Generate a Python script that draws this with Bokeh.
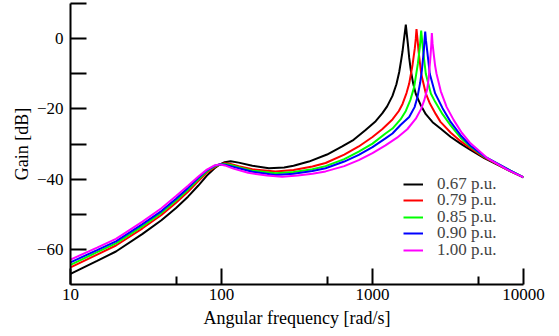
from bokeh.plotting import figure
from bokeh.models import Range1d, FixedTicker, NumeralTickFormatter, Legend, LegendItem
from bokeh.embed import file_html
from bokeh.resources import INLINE

# ---- data ----
labels = ["0.67 p.u.", "0.79 p.u.", "0.85 p.u.", "0.90 p.u.", "1.00 p.u."]
colors = ["#000000", "#ff0000", "#00ff00", "#0000ff", "#ff00ff"]

freq_067 = [10, 15, 20, 30, 40, 50, 60, 70, 80, 90, 97, 105, 115, 130, 160, 206, 260, 300, 379, 500,
            630, 750, 900, 1050, 1160, 1250, 1356, 1440, 1503, 1550, 1581, 1610, 1635, 1662, 1690,
            1715, 1750, 1795, 1860, 1936, 2080, 2254, 2500, 2820, 3300, 3830, 4457, 5500, 6700, 8200, 10000]
gain_067 = [-67.0, -63.3, -60.6, -55.6, -51.7, -48.2, -45.0, -41.9, -39.0, -36.9, -35.9, -35.2, -34.9, -35.3,
            -36.2, -36.9, -36.7, -36.2, -35.0, -33.0, -30.7, -28.8, -26.0, -23.5, -21.3, -19.3, -16.3,
            -13.0, -9.5, -6.0, -3.6, -0.8, 1.5, 4.0, 1.0, -1.5, -5.5, -9.1, -12.8, -15.8, -18.8, -21.5,
            -23.8, -25.6, -28.0, -29.9, -31.7, -34.0, -35.9, -37.8, -39.5]

freq_079 = [10, 15, 20, 30, 40, 50, 60, 70, 80, 90, 97, 105, 115, 130, 160, 228, 300, 400, 489, 650,
            811, 1000, 1159, 1356, 1494, 1581, 1680, 1750, 1841, 1906, 1935, 1956, 1985, 2017, 2101,
            2254, 2400, 2625, 2820, 3300, 3830, 4457, 5500, 6700, 8200, 10000]
gain_079 = [-65.1, -61.5, -58.9, -54.0, -50.2, -46.7, -43.6, -40.6, -38.2, -36.6, -35.8, -35.5, -35.7, -36.3,
            -37.2, -37.8, -37.4, -36.4, -35.4, -33.0, -30.7, -28.0, -25.8, -23.0, -20.6, -18.6, -15.5,
            -12.8, -7.5, -2.8, 0.0, 2.7, 0.0, -3.4, -10.0, -15.6, -18.5, -21.5, -23.7, -26.8, -29.2,
            -31.2, -33.8, -35.7, -37.7, -39.5]

freq_085 = [10, 15, 20, 30, 40, 50, 60, 70, 80, 90, 97, 105, 115, 130, 160, 228, 300, 400, 489, 650,
            811, 1000, 1219, 1356, 1533, 1662, 1780, 1887, 1996, 2057, 2080, 2101, 2125, 2163, 2254,
            2434, 2600, 2910, 3300, 3830, 4457, 5500, 6700, 8200, 10000]
gain_085 = [-64.4, -60.8, -58.3, -53.4, -49.6, -46.1, -43.0, -40.1, -37.8, -36.4, -35.8, -35.7, -36.0, -36.6,
            -37.6, -38.3, -38.0, -37.2, -36.3, -34.3, -32.2, -29.9, -27.0, -25.6, -23.0, -20.6, -17.5,
            -13.8, -7.2, -2.5, 0.0, 2.3, 0.0, -3.4, -10.0, -15.6, -18.0, -21.5, -24.8, -28.2, -30.8,
            -33.6, -35.6, -37.6, -39.5]

freq_090 = [10, 15, 20, 30, 40, 50, 60, 70, 80, 90, 97, 105, 115, 130, 160, 228, 300, 400, 489, 650,
            811, 1000, 1219, 1356, 1533, 1750, 1900, 1986, 2070, 2122, 2187, 2210, 2234, 2260, 2302,
            2395, 2600, 2910, 3300, 3830, 4457, 5500, 6700, 8200, 10000]
gain_090 = [-63.7, -60.2, -57.7, -52.8, -49.1, -45.6, -42.5, -39.7, -37.5, -36.2, -35.8, -35.9, -36.3, -36.9,
            -37.9, -38.8, -38.5, -37.7, -36.9, -35.0, -33.1, -30.9, -28.4, -27.0, -24.6, -22.3, -19.5,
            -16.6, -12.5, -9.1, -3.4, -0.5, 2.0, -0.5, -3.4, -10.0, -15.6, -19.8, -23.8, -27.5, -30.5,
            -33.5, -35.5, -37.6, -39.5]

freq_100 = [10, 15, 20, 30, 40, 50, 60, 70, 80, 90, 97, 105, 120, 150, 200, 252, 320, 400, 489, 650,
            811, 1000, 1219, 1455, 1700, 1936, 2100, 2200, 2300, 2360, 2421, 2450, 2472, 2500, 2545,
            2600, 2655, 2834, 3100, 3453, 3900, 4457, 5750, 7800, 10000]
gain_100 = [-62.9, -59.5, -57.0, -52.1, -48.3, -44.8, -41.9, -39.3, -37.3, -36.1, -35.8, -36.1, -37.0, -38.2,
            -39.0, -39.3, -39.0, -38.5, -37.8, -36.3, -34.6, -32.6, -30.4, -28.2, -25.8, -22.8, -20.0,
            -17.6, -14.5, -11.0, -5.0, -1.8, 1.6, -1.5, -4.5, -7.8, -10.0, -15.0, -19.5, -23.2, -26.8,
            -29.8, -34.0, -37.3, -39.5]

x_ticks = [10, 100, 1000, 10000]
x_minor = [50, 500, 5000]
y_ticks = [-60, -40, -20, 0]
y_minor = [-50, -30, -10, 10]

series = [(freq_067, gain_067), (freq_079, gain_079), (freq_085, gain_085),
          (freq_090, gain_090), (freq_100, gain_100)]

FONT = "Liberation Serif"

p = figure(width=559, height=336, x_axis_type="log", output_backend="svg",
           toolbar_location=None, x_range=Range1d(10, 10000), y_range=Range1d(-70, 10),
           min_border_left=70, min_border_right=36, min_border_top=3, min_border_bottom=52)
p.outline_line_color = None
p.xgrid.visible = False
p.ygrid.visible = False
p.background_fill_color = "white"
p.border_fill_color = "white"

renderers = []
for (f, g), c in zip(series, colors):
    renderers.append(p.line(f, g, line_color=c, line_width=2))

# axes
p.xaxis.ticker = FixedTicker(ticks=x_ticks, minor_ticks=x_minor)
p.xaxis.formatter = NumeralTickFormatter(format="0")
p.yaxis.ticker = FixedTicker(ticks=y_ticks, minor_ticks=y_minor)
p.xaxis.axis_label = "Angular frequency [rad/s]"
p.yaxis.axis_label = "Gain [dB]"

for ax in (p.xaxis, p.yaxis):
    ax.axis_line_width = 2
    ax.axis_line_color = "black"
    ax.major_tick_line_width = 2
    ax.minor_tick_line_width = 2
    ax.major_tick_line_color = "black"
    ax.minor_tick_line_color = "black"
    ax.major_tick_out = 0
    ax.minor_tick_out = 0
    ax.major_tick_in = 16
    ax.major_label_text_font = FONT
    ax.major_label_text_font_size = "17px"
    ax.major_label_text_color = "black"
    ax.axis_label_text_font = FONT
    ax.axis_label_text_font_size = "18px"
    ax.axis_label_text_font_style = "normal"
    ax.axis_label_text_color = "black"

p.xaxis.minor_tick_in = 8
p.yaxis.minor_tick_in = 16
p.xaxis.major_label_standoff = 4
p.xaxis.axis_label_standoff = 5
p.yaxis.major_label_standoff = 7
p.yaxis.axis_label_standoff = 2

# one single-entry legend per series so rows can sit at the reference's tight pitch
row_offsets = [90, 74, 57, 41, 24]
for r, lab, off in zip(renderers, labels, row_offsets):
    lg = Legend(items=[LegendItem(label=lab, renderers=[r])], location=(333, off))
    lg.label_text_font = FONT
    lg.label_text_font_size = "17px"
    lg.label_height = 16
    lg.glyph_height = 16
    lg.glyph_width = 20
    lg.label_standoff = 14
    lg.spacing = 0
    lg.padding = 0
    lg.margin = 0
    lg.border_line_color = None
    lg.background_fill_alpha = 0
    p.add_layout(lg)

open("out.html", "w").write(file_html(p, INLINE))
